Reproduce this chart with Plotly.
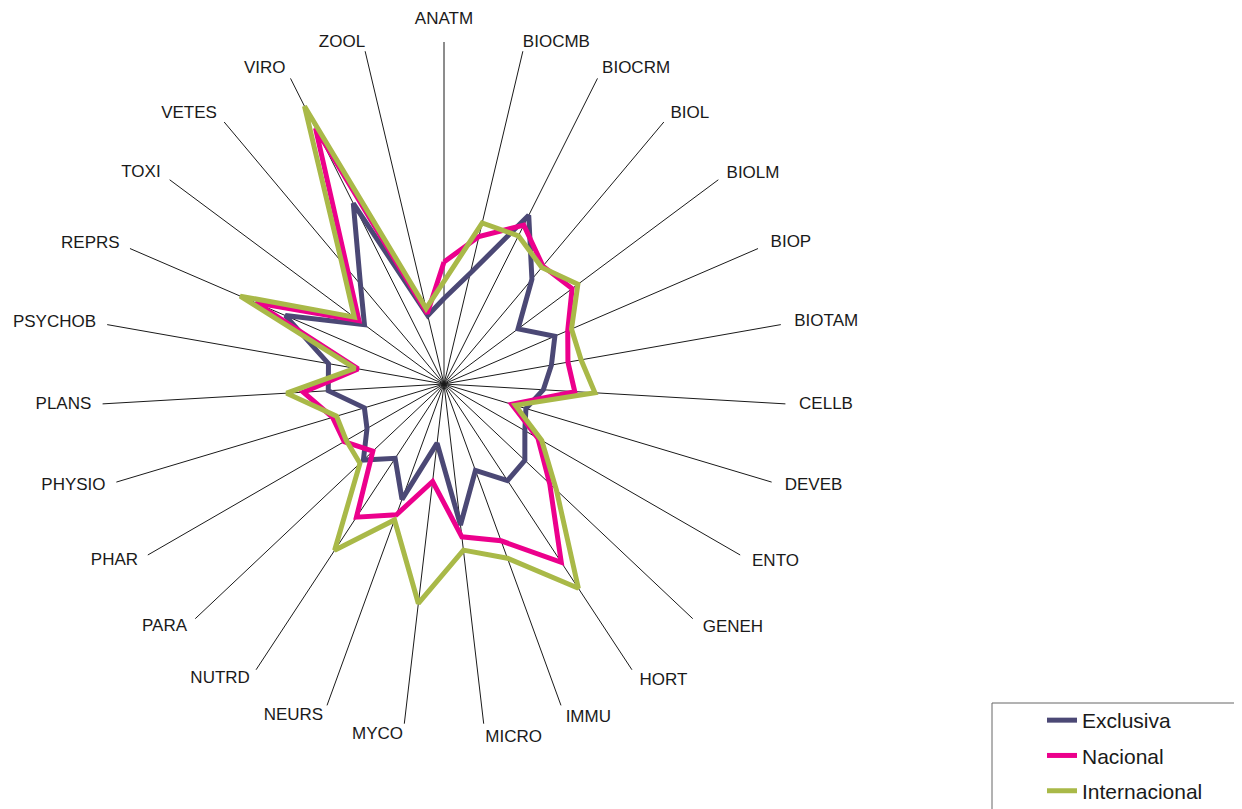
import plotly.graph_objects as go

# Categories around the radar, clockwise from the top
categories = ['ANATM', 'BIOCMB', 'BIOCRM', 'BIOL', 'BIOLM', 'BIOP', 'BIOTAM',
              'CELLB', 'DEVEB', 'ENTO', 'GENEH', 'HORT', 'IMMU', 'MICRO',
              'MYCO', 'NEURS', 'NUTRD', 'PARA', 'PHAR', 'PHYSIO', 'PLANS',
              'PSYCHOB', 'REPRS', 'TOXI', 'VETES', 'VIRO', 'ZOOL']

# Values (fraction of the axis length)
exclusiva = [0.25, 0.333, 0.552, 0.40, 0.27, 0.353, 0.319, 0.291, 0.25,
             0.273, 0.325, 0.338, 0.269, 0.415, 0.174, 0.359, 0.26, 0.324,
             0.26, 0.243, 0.339, 0.343, 0.505, 0.29, 0.38, 0.591, 0.206]
nacional = [0.357, 0.443, 0.52, 0.45, 0.467, 0.394, 0.368, 0.383, 0.207,
            0.317, 0.425, 0.624, 0.488, 0.45, 0.287, 0.407, 0.466, 0.286,
            0.337, 0.34, 0.412, 0.255, 0.60, 0.31, 0.44, 0.837, 0.212]
internacional = [0.30, 0.484, 0.485, 0.445, 0.488, 0.406, 0.407, 0.442, 0.218,
                 0.33, 0.452, 0.715, 0.542, 0.489, 0.646, 0.423, 0.582, 0.338,
                 0.33, 0.328, 0.461, 0.264, 0.649, 0.327, 0.466, 0.909, 0.227]

series = [('Exclusiva', exclusiva, '#4b4875'),
          ('Nacional', nacional, '#ec008c'),
          ('Internacional', internacional, '#a9b948')]

W, H = 1242, 809
RMAX = 1.05          # a little room past the spokes for the labels
cx, cy, rad = 436, 376, 342 * RMAX   # polar centre / radius in px

fig = go.Figure()

# spokes from the centre out to 1.0
sp_r, sp_t = [], []
for c in categories:
    sp_r += [0, 1, None]
    sp_t += [c, c, None]
fig.add_trace(go.Scatterpolar(r=sp_r, theta=sp_t, mode='lines',
                              line=dict(color='#1a1a1a', width=1),
                              showlegend=False, hoverinfo='skip'))

for name, vals, col in series:
    # close the loop
    fig.add_trace(go.Scatterpolar(r=vals + vals[:1],
                                  theta=categories + categories[:1],
                                  mode='lines', name=name, legendgroup=name,
                                  line=dict(color=col, width=5)))

# category labels sit just past the end of each spoke, Excel style
n = len(categories)
lab_r, lab_pos = [], []
for i in range(n):
    ang = 360.0 * i / n
    if i == 0:
        lab_r.append(1.04); lab_pos.append('top center')
    elif ang < 20:
        lab_r.append(1.0); lab_pos.append('top right')
    elif ang < 60:
        lab_r.append(1.03); lab_pos.append('middle right')
    elif ang < 180:
        lab_r.append(1.04); lab_pos.append('middle right')
    elif ang < 340:
        lab_r.append(1.033); lab_pos.append('middle left')
    else:
        lab_r.append(1.0); lab_pos.append('top left')

fig.add_trace(go.Scatterpolar(r=lab_r, theta=categories, mode='text',
                              text=categories, textposition=lab_pos,
                              textfont=dict(size=17, color='#1a1a1a'),
                              cliponaxis=False, showlegend=False,
                              hoverinfo='skip'))

# legend frame (runs off the page on the right and bottom, like the original)
fig.add_shape(type='rect', xref='paper', yref='paper',
              x0=984/W, x1=1.05, y0=-0.05, y1=(H-695)/H,
              line=dict(color='#666666', width=1), fillcolor='rgba(0,0,0,0)')

fig.update_layout(
    width=W, height=H,
    margin=dict(l=0, r=0, t=0, b=0, autoexpand=False),
    paper_bgcolor='white',
    font=dict(family='Liberation Sans, Arial, sans-serif', size=17, color='#1a1a1a'),
    polar=dict(
        domain=dict(x=[(cx - rad)/W, (cx + rad)/W],
                    y=[(H - cy - rad)/H, (H - cy + rad)/H]),
        bgcolor='rgba(0,0,0,0)',
        angularaxis=dict(rotation=90, direction='clockwise',
                         categoryorder='array', categoryarray=categories,
                         showline=False, showgrid=False,
                         ticks='', showticklabels=False),
        radialaxis=dict(range=[0, RMAX], showgrid=False, showline=False,
                        showticklabels=False, ticks=''),
    ),
    legend=dict(x=1034/W, y=(H-692)/H, xanchor='left', yanchor='top',
                borderwidth=0, bgcolor='rgba(0,0,0,0)', traceorder='grouped',
                font=dict(size=21, color='#1a1a1a'), tracegroupgap=5),
)

fig.write_html("out.html")
